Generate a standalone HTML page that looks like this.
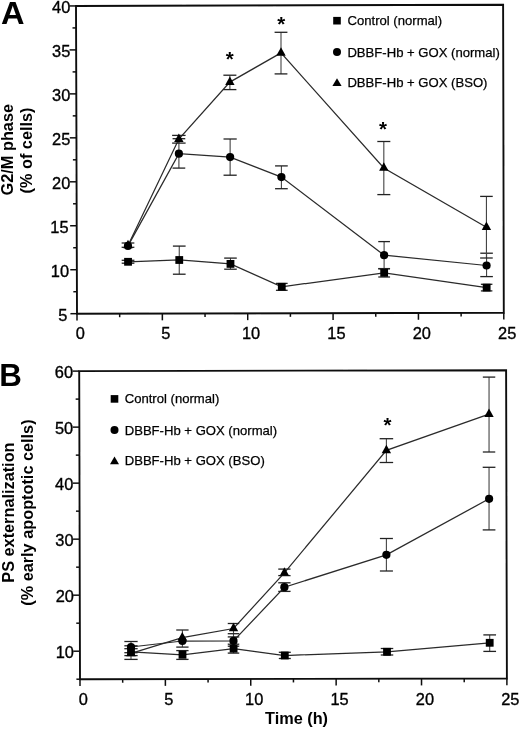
<!DOCTYPE html>
<html><head><meta charset="utf-8"><title>Figure</title>
<style>
html,body{margin:0;padding:0;background:#fff;}
body{width:520px;height:729px;overflow:hidden;}
svg{display:block;will-change:transform;}
text{font-family:"Liberation Sans",sans-serif;fill:#000;}
.tl{font-size:16.4px;stroke:#000;stroke-width:0.35px;}
.lg{font-size:13.1px;stroke:#000;stroke-width:0.25px;}
.at{font-size:16.3px;font-weight:bold;}
.pl{font-size:31px;font-weight:bold;}
.st{font-size:20.5px;font-weight:bold;}
</style></head>
<body>
<svg width="520" height="729" viewBox="0 0 520 729">
<defs><filter id="bl" x="0" y="0" width="100%" height="100%"><feGaussianBlur stdDeviation="0.3"/></filter></defs>
<rect width="520" height="729" fill="#fff"/>
<g filter="url(#bl)">
<path d="M76.00,5.95 L503.10,4.70 L503.80,312.80 L77.00,313.70 Z" stroke="#111" stroke-width="1.9" fill="none" stroke-linejoin="miter"/>
<line x1="70.40" y1="313.70" x2="77.00" y2="313.70" stroke="#111" stroke-width="1.5"/>
<line x1="73.33" y1="291.72" x2="76.93" y2="291.72" stroke="#111" stroke-width="1.5"/>
<line x1="70.26" y1="269.74" x2="76.86" y2="269.74" stroke="#111" stroke-width="1.5"/>
<line x1="73.19" y1="247.75" x2="76.79" y2="247.75" stroke="#111" stroke-width="1.5"/>
<line x1="70.11" y1="225.77" x2="76.71" y2="225.77" stroke="#111" stroke-width="1.5"/>
<line x1="73.04" y1="203.79" x2="76.64" y2="203.79" stroke="#111" stroke-width="1.5"/>
<line x1="69.97" y1="181.81" x2="76.57" y2="181.81" stroke="#111" stroke-width="1.5"/>
<line x1="72.90" y1="159.82" x2="76.50" y2="159.82" stroke="#111" stroke-width="1.5"/>
<line x1="69.83" y1="137.84" x2="76.43" y2="137.84" stroke="#111" stroke-width="1.5"/>
<line x1="72.76" y1="115.86" x2="76.36" y2="115.86" stroke="#111" stroke-width="1.5"/>
<line x1="69.69" y1="93.88" x2="76.29" y2="93.88" stroke="#111" stroke-width="1.5"/>
<line x1="72.61" y1="71.90" x2="76.21" y2="71.90" stroke="#111" stroke-width="1.5"/>
<line x1="69.54" y1="49.91" x2="76.14" y2="49.91" stroke="#111" stroke-width="1.5"/>
<line x1="72.47" y1="27.93" x2="76.07" y2="27.93" stroke="#111" stroke-width="1.5"/>
<line x1="69.40" y1="5.95" x2="76.00" y2="5.95" stroke="#111" stroke-width="1.5"/>
<line x1="77.00" y1="313.70" x2="77.00" y2="320.50" stroke="#111" stroke-width="1.5"/>
<line x1="119.68" y1="313.61" x2="119.68" y2="317.21" stroke="#111" stroke-width="1.5"/>
<line x1="162.36" y1="313.52" x2="162.36" y2="320.32" stroke="#111" stroke-width="1.5"/>
<line x1="205.04" y1="313.43" x2="205.04" y2="317.03" stroke="#111" stroke-width="1.5"/>
<line x1="247.72" y1="313.34" x2="247.72" y2="320.14" stroke="#111" stroke-width="1.5"/>
<line x1="290.40" y1="313.25" x2="290.40" y2="316.85" stroke="#111" stroke-width="1.5"/>
<line x1="333.08" y1="313.16" x2="333.08" y2="319.96" stroke="#111" stroke-width="1.5"/>
<line x1="375.76" y1="313.07" x2="375.76" y2="316.67" stroke="#111" stroke-width="1.5"/>
<line x1="418.44" y1="312.98" x2="418.44" y2="319.78" stroke="#111" stroke-width="1.5"/>
<line x1="461.12" y1="312.89" x2="461.12" y2="316.49" stroke="#111" stroke-width="1.5"/>
<line x1="503.80" y1="312.80" x2="503.80" y2="319.60" stroke="#111" stroke-width="1.5"/>
<text x="67.3" y="321.0" class="tl" text-anchor="end">5</text>
<text x="69.05" y="277.04" class="tl" text-anchor="end">10</text>
<text x="68.6" y="233.07" class="tl" text-anchor="end">15</text>
<text x="70.3" y="189.11" class="tl" text-anchor="end">20</text>
<text x="70.3" y="145.14" class="tl" text-anchor="end">25</text>
<text x="70.3" y="101.18" class="tl" text-anchor="end">30</text>
<text x="70.3" y="57.21" class="tl" text-anchor="end">35</text>
<text x="70.3" y="13.25" class="tl" text-anchor="end">40</text>
<text x="80.4" y="338.6" class="tl" text-anchor="middle">0</text>
<text x="165.76" y="338.6" class="tl" text-anchor="middle">5</text>
<text x="251.12" y="338.6" class="tl" text-anchor="middle">10</text>
<text x="336.48" y="338.6" class="tl" text-anchor="middle">15</text>
<text x="421.84" y="338.6" class="tl" text-anchor="middle">20</text>
<text x="507.2" y="338.6" class="tl" text-anchor="middle">25</text>
<polyline points="128.04,261.80 179.25,260.00 230.48,263.90 281.78,286.80 384.16,272.80 486.64,287.60" stroke="#2a2a2a" stroke-width="1.25" fill="none"/>
<polyline points="127.99,245.90 178.90,153.70 230.13,157.10 281.41,177.10 384.10,255.20 486.57,265.50" stroke="#2a2a2a" stroke-width="1.25" fill="none"/>
<polyline points="127.99,245.40 178.86,139.10 229.88,82.10 281.00,52.90 383.82,168.00 486.44,227.20" stroke="#2a2a2a" stroke-width="1.25" fill="none"/>
<line x1="128.04" y1="260.30" x2="128.04" y2="263.20" stroke="#444" stroke-width="1.1"/>
<line x1="121.69" y1="260.30" x2="134.39" y2="260.30" stroke="#222" stroke-width="1.3"/>
<line x1="121.69" y1="263.20" x2="134.39" y2="263.20" stroke="#222" stroke-width="1.3"/>
<line x1="179.26" y1="246.10" x2="179.26" y2="274.20" stroke="#444" stroke-width="1.1"/>
<line x1="172.91" y1="246.10" x2="185.61" y2="246.10" stroke="#222" stroke-width="1.3"/>
<line x1="172.91" y1="274.20" x2="185.61" y2="274.20" stroke="#222" stroke-width="1.3"/>
<line x1="230.48" y1="258.10" x2="230.48" y2="269.20" stroke="#444" stroke-width="1.1"/>
<line x1="224.18" y1="258.10" x2="236.78" y2="258.10" stroke="#222" stroke-width="1.3"/>
<line x1="224.18" y1="269.20" x2="236.78" y2="269.20" stroke="#222" stroke-width="1.3"/>
<line x1="281.78" y1="283.40" x2="281.78" y2="290.30" stroke="#444" stroke-width="1.1"/>
<line x1="275.93" y1="283.40" x2="287.63" y2="283.40" stroke="#222" stroke-width="1.3"/>
<line x1="275.93" y1="290.30" x2="287.63" y2="290.30" stroke="#222" stroke-width="1.3"/>
<line x1="384.16" y1="268.60" x2="384.16" y2="277.00" stroke="#444" stroke-width="1.1"/>
<line x1="378.26" y1="268.60" x2="390.06" y2="268.60" stroke="#222" stroke-width="1.3"/>
<line x1="378.26" y1="277.00" x2="390.06" y2="277.00" stroke="#222" stroke-width="1.3"/>
<line x1="486.64" y1="284.30" x2="486.64" y2="290.90" stroke="#444" stroke-width="1.1"/>
<line x1="480.89" y1="284.30" x2="492.39" y2="284.30" stroke="#222" stroke-width="1.3"/>
<line x1="480.89" y1="290.90" x2="492.39" y2="290.90" stroke="#222" stroke-width="1.3"/>
<line x1="127.99" y1="243.00" x2="127.99" y2="247.30" stroke="#444" stroke-width="1.1"/>
<line x1="121.64" y1="243.00" x2="134.34" y2="243.00" stroke="#222" stroke-width="1.3"/>
<line x1="121.64" y1="247.30" x2="134.34" y2="247.30" stroke="#222" stroke-width="1.3"/>
<line x1="178.90" y1="138.70" x2="178.90" y2="168.10" stroke="#444" stroke-width="1.1"/>
<line x1="172.55" y1="138.70" x2="185.25" y2="138.70" stroke="#222" stroke-width="1.3"/>
<line x1="172.55" y1="168.10" x2="185.25" y2="168.10" stroke="#222" stroke-width="1.3"/>
<line x1="230.13" y1="139.00" x2="230.13" y2="175.20" stroke="#444" stroke-width="1.1"/>
<line x1="223.53" y1="139.00" x2="236.73" y2="139.00" stroke="#222" stroke-width="1.3"/>
<line x1="223.53" y1="175.20" x2="236.73" y2="175.20" stroke="#222" stroke-width="1.3"/>
<line x1="281.41" y1="165.90" x2="281.41" y2="188.70" stroke="#444" stroke-width="1.1"/>
<line x1="275.06" y1="165.90" x2="287.76" y2="165.90" stroke="#222" stroke-width="1.3"/>
<line x1="275.06" y1="188.70" x2="287.76" y2="188.70" stroke="#222" stroke-width="1.3"/>
<line x1="384.10" y1="241.60" x2="384.10" y2="268.80" stroke="#444" stroke-width="1.1"/>
<line x1="378.25" y1="241.60" x2="389.95" y2="241.60" stroke="#222" stroke-width="1.3"/>
<line x1="378.25" y1="268.80" x2="389.95" y2="268.80" stroke="#222" stroke-width="1.3"/>
<line x1="486.57" y1="253.20" x2="486.57" y2="276.60" stroke="#444" stroke-width="1.1"/>
<line x1="480.27" y1="253.20" x2="492.87" y2="253.20" stroke="#222" stroke-width="1.3"/>
<line x1="480.27" y1="276.60" x2="492.87" y2="276.60" stroke="#222" stroke-width="1.3"/>
<line x1="178.86" y1="135.40" x2="178.86" y2="143.10" stroke="#444" stroke-width="1.1"/>
<line x1="172.11" y1="135.40" x2="185.61" y2="135.40" stroke="#222" stroke-width="1.3"/>
<line x1="172.11" y1="143.10" x2="185.61" y2="143.10" stroke="#222" stroke-width="1.3"/>
<line x1="229.88" y1="75.20" x2="229.88" y2="89.60" stroke="#444" stroke-width="1.1"/>
<line x1="223.38" y1="75.20" x2="236.38" y2="75.20" stroke="#222" stroke-width="1.3"/>
<line x1="223.38" y1="89.60" x2="236.38" y2="89.60" stroke="#222" stroke-width="1.3"/>
<line x1="281.00" y1="32.30" x2="281.00" y2="73.90" stroke="#444" stroke-width="1.1"/>
<line x1="274.60" y1="32.30" x2="287.40" y2="32.30" stroke="#222" stroke-width="1.3"/>
<line x1="274.60" y1="73.90" x2="287.40" y2="73.90" stroke="#222" stroke-width="1.3"/>
<line x1="383.82" y1="141.50" x2="383.82" y2="194.60" stroke="#444" stroke-width="1.1"/>
<line x1="377.32" y1="141.50" x2="390.32" y2="141.50" stroke="#222" stroke-width="1.3"/>
<line x1="377.32" y1="194.60" x2="390.32" y2="194.60" stroke="#222" stroke-width="1.3"/>
<line x1="486.44" y1="196.40" x2="486.44" y2="258.00" stroke="#444" stroke-width="1.1"/>
<line x1="480.14" y1="196.40" x2="492.74" y2="196.40" stroke="#222" stroke-width="1.3"/>
<line x1="480.14" y1="258.00" x2="492.74" y2="258.00" stroke="#222" stroke-width="1.3"/>
<rect x="124.14" y="257.90" width="7.8" height="7.8" fill="#000"/>
<rect x="175.35" y="256.10" width="7.8" height="7.8" fill="#000"/>
<rect x="226.58" y="260.00" width="7.8" height="7.8" fill="#000"/>
<rect x="277.88" y="282.90" width="7.8" height="7.8" fill="#000"/>
<rect x="380.26" y="268.90" width="7.8" height="7.8" fill="#000"/>
<rect x="482.74" y="283.70" width="7.8" height="7.8" fill="#000"/>
<circle cx="127.99" cy="245.90" r="4.1" fill="#000"/>
<circle cx="178.90" cy="153.70" r="4.1" fill="#000"/>
<circle cx="230.13" cy="157.10" r="4.1" fill="#000"/>
<circle cx="281.41" cy="177.10" r="4.1" fill="#000"/>
<circle cx="384.10" cy="255.20" r="4.1" fill="#000"/>
<circle cx="486.57" cy="265.50" r="4.1" fill="#000"/>
<path d="M127.99,239.73 L132.69,248.23 L123.29,248.23 Z" fill="#000"/>
<path d="M178.86,133.43 L183.56,141.93 L174.16,141.93 Z" fill="#000"/>
<path d="M229.88,76.43 L234.58,84.93 L225.18,84.93 Z" fill="#000"/>
<path d="M281.00,47.23 L285.70,55.73 L276.30,55.73 Z" fill="#000"/>
<path d="M383.82,162.33 L388.52,170.83 L379.12,170.83 Z" fill="#000"/>
<path d="M486.44,221.53 L491.14,230.03 L481.74,230.03 Z" fill="#000"/>
<text x="229.70" y="66.20" class="st" text-anchor="middle">*</text>
<text x="281.20" y="30.80" class="st" text-anchor="middle">*</text>
<text x="382.90" y="136.00" class="st" text-anchor="middle">*</text>
<rect x="333.20" y="16.90" width="7.6" height="7.6" fill="#000"/>
<circle cx="337.00" cy="51.90" r="4.0" fill="#000"/>
<path d="M337.00,78.33 L341.60,85.93 L332.40,85.93 Z" fill="#000"/>
<text x="347.5" y="24.7" class="lg">Control (normal)</text>
<text x="347.4" y="56.5" class="lg">DBBF-Hb + GOX (normal)</text>
<text x="347.4" y="87.0" class="lg">DBBF-Hb + GOX (BSO)</text>
<path d="M79.20,371.10 L506.10,370.20 L506.90,678.50 L80.00,679.20 Z" stroke="#111" stroke-width="1.9" fill="none" stroke-linejoin="miter"/>
<line x1="76.40" y1="679.20" x2="80.00" y2="679.20" stroke="#111" stroke-width="1.5"/>
<line x1="73.33" y1="651.19" x2="79.93" y2="651.19" stroke="#111" stroke-width="1.5"/>
<line x1="76.25" y1="623.18" x2="79.85" y2="623.18" stroke="#111" stroke-width="1.5"/>
<line x1="73.18" y1="595.17" x2="79.78" y2="595.17" stroke="#111" stroke-width="1.5"/>
<line x1="76.11" y1="567.16" x2="79.71" y2="567.16" stroke="#111" stroke-width="1.5"/>
<line x1="73.04" y1="539.15" x2="79.64" y2="539.15" stroke="#111" stroke-width="1.5"/>
<line x1="75.96" y1="511.15" x2="79.56" y2="511.15" stroke="#111" stroke-width="1.5"/>
<line x1="72.89" y1="483.14" x2="79.49" y2="483.14" stroke="#111" stroke-width="1.5"/>
<line x1="75.82" y1="455.13" x2="79.42" y2="455.13" stroke="#111" stroke-width="1.5"/>
<line x1="72.75" y1="427.12" x2="79.35" y2="427.12" stroke="#111" stroke-width="1.5"/>
<line x1="75.67" y1="399.11" x2="79.27" y2="399.11" stroke="#111" stroke-width="1.5"/>
<line x1="72.60" y1="371.10" x2="79.20" y2="371.10" stroke="#111" stroke-width="1.5"/>
<line x1="80.00" y1="679.20" x2="80.00" y2="686.00" stroke="#111" stroke-width="1.5"/>
<line x1="122.69" y1="679.13" x2="122.69" y2="682.73" stroke="#111" stroke-width="1.5"/>
<line x1="165.38" y1="679.06" x2="165.38" y2="685.86" stroke="#111" stroke-width="1.5"/>
<line x1="208.07" y1="678.99" x2="208.07" y2="682.59" stroke="#111" stroke-width="1.5"/>
<line x1="250.76" y1="678.92" x2="250.76" y2="685.72" stroke="#111" stroke-width="1.5"/>
<line x1="293.45" y1="678.85" x2="293.45" y2="682.45" stroke="#111" stroke-width="1.5"/>
<line x1="336.14" y1="678.78" x2="336.14" y2="685.58" stroke="#111" stroke-width="1.5"/>
<line x1="378.83" y1="678.71" x2="378.83" y2="682.31" stroke="#111" stroke-width="1.5"/>
<line x1="421.52" y1="678.64" x2="421.52" y2="685.44" stroke="#111" stroke-width="1.5"/>
<line x1="464.21" y1="678.57" x2="464.21" y2="682.17" stroke="#111" stroke-width="1.5"/>
<line x1="506.90" y1="678.50" x2="506.90" y2="685.30" stroke="#111" stroke-width="1.5"/>
<text x="73.95" y="657.79" class="tl" text-anchor="end">10</text>
<text x="73.9" y="601.77" class="tl" text-anchor="end">20</text>
<text x="73.6" y="545.75" class="tl" text-anchor="end">30</text>
<text x="73.25" y="489.74" class="tl" text-anchor="end">40</text>
<text x="73.15" y="433.72" class="tl" text-anchor="end">50</text>
<text x="73.0" y="377.7" class="tl" text-anchor="end">60</text>
<text x="83.4" y="705.0" class="tl" text-anchor="middle">0</text>
<text x="168.78" y="705.0" class="tl" text-anchor="middle">5</text>
<text x="254.16" y="705.0" class="tl" text-anchor="middle">10</text>
<text x="339.54" y="705.0" class="tl" text-anchor="middle">15</text>
<text x="424.92" y="705.0" class="tl" text-anchor="middle">20</text>
<text x="510.3" y="705.0" class="tl" text-anchor="middle">25</text>
<polyline points="131.00,651.80 182.50,654.80 233.60,648.70 284.80,655.50 387.00,651.80 489.70,642.80" stroke="#2a2a2a" stroke-width="1.25" fill="none"/>
<polyline points="131.00,647.00 182.40,641.00 233.50,640.90 284.40,587.20 386.40,554.80 489.10,498.80" stroke="#2a2a2a" stroke-width="1.25" fill="none"/>
<polyline points="131.00,653.30 182.30,637.60 233.50,628.50 284.40,572.80 386.40,450.40 489.00,414.10" stroke="#2a2a2a" stroke-width="1.25" fill="none"/>
<line x1="131.00" y1="641.50" x2="131.00" y2="659.40" stroke="#444" stroke-width="1.1"/>
<line x1="124.35" y1="641.50" x2="137.65" y2="641.50" stroke="#222" stroke-width="1.3"/>
<line x1="124.35" y1="659.40" x2="137.65" y2="659.40" stroke="#222" stroke-width="1.3"/>
<line x1="124.35" y1="645.80" x2="137.65" y2="645.80" stroke="#222" stroke-width="1.3"/>
<line x1="124.35" y1="648.70" x2="137.65" y2="648.70" stroke="#222" stroke-width="1.3"/>
<line x1="124.35" y1="652.70" x2="137.65" y2="652.70" stroke="#222" stroke-width="1.3"/>
<line x1="124.35" y1="655.60" x2="137.65" y2="655.60" stroke="#222" stroke-width="1.3"/>
<line x1="182.40" y1="630.00" x2="182.40" y2="647.10" stroke="#444" stroke-width="1.1"/>
<line x1="176.25" y1="630.00" x2="188.55" y2="630.00" stroke="#222" stroke-width="1.3"/>
<line x1="176.25" y1="647.10" x2="188.55" y2="647.10" stroke="#222" stroke-width="1.3"/>
<line x1="176.25" y1="650.60" x2="188.55" y2="650.60" stroke="#222" stroke-width="1.3"/>
<line x1="176.25" y1="659.40" x2="188.55" y2="659.40" stroke="#222" stroke-width="1.3"/>
<line x1="233.50" y1="623.50" x2="233.50" y2="653.10" stroke="#444" stroke-width="1.1"/>
<line x1="227.75" y1="623.50" x2="239.25" y2="623.50" stroke="#222" stroke-width="1.3"/>
<line x1="227.75" y1="653.10" x2="239.25" y2="653.10" stroke="#222" stroke-width="1.3"/>
<line x1="227.75" y1="633.70" x2="239.25" y2="633.70" stroke="#222" stroke-width="1.3"/>
<line x1="227.75" y1="636.90" x2="239.25" y2="636.90" stroke="#222" stroke-width="1.3"/>
<line x1="227.75" y1="644.20" x2="239.25" y2="644.20" stroke="#222" stroke-width="1.3"/>
<line x1="227.75" y1="646.20" x2="239.25" y2="646.20" stroke="#222" stroke-width="1.3"/>
<line x1="284.40" y1="569.10" x2="284.40" y2="575.60" stroke="#444" stroke-width="1.1"/>
<line x1="278.25" y1="569.10" x2="290.55" y2="569.10" stroke="#222" stroke-width="1.3"/>
<line x1="278.25" y1="575.60" x2="290.55" y2="575.60" stroke="#222" stroke-width="1.3"/>
<line x1="284.40" y1="582.80" x2="284.40" y2="591.40" stroke="#444" stroke-width="1.1"/>
<line x1="278.25" y1="582.80" x2="290.55" y2="582.80" stroke="#222" stroke-width="1.3"/>
<line x1="278.25" y1="591.40" x2="290.55" y2="591.40" stroke="#222" stroke-width="1.3"/>
<line x1="284.80" y1="652.30" x2="284.80" y2="658.50" stroke="#444" stroke-width="1.1"/>
<line x1="278.80" y1="652.30" x2="290.80" y2="652.30" stroke="#222" stroke-width="1.3"/>
<line x1="278.80" y1="658.50" x2="290.80" y2="658.50" stroke="#222" stroke-width="1.3"/>
<line x1="386.40" y1="438.70" x2="386.40" y2="462.50" stroke="#444" stroke-width="1.1"/>
<line x1="379.65" y1="438.70" x2="393.15" y2="438.70" stroke="#222" stroke-width="1.3"/>
<line x1="379.65" y1="462.50" x2="393.15" y2="462.50" stroke="#222" stroke-width="1.3"/>
<line x1="386.40" y1="538.50" x2="386.40" y2="571.00" stroke="#444" stroke-width="1.1"/>
<line x1="379.90" y1="538.50" x2="392.90" y2="538.50" stroke="#222" stroke-width="1.3"/>
<line x1="379.90" y1="571.00" x2="392.90" y2="571.00" stroke="#222" stroke-width="1.3"/>
<line x1="387.00" y1="648.50" x2="387.00" y2="655.00" stroke="#444" stroke-width="1.1"/>
<line x1="380.75" y1="648.50" x2="393.25" y2="648.50" stroke="#222" stroke-width="1.3"/>
<line x1="380.75" y1="655.00" x2="393.25" y2="655.00" stroke="#222" stroke-width="1.3"/>
<line x1="489.05" y1="377.10" x2="489.05" y2="452.00" stroke="#444" stroke-width="1.1"/>
<line x1="482.85" y1="377.10" x2="495.25" y2="377.10" stroke="#222" stroke-width="1.3"/>
<line x1="482.85" y1="452.00" x2="495.25" y2="452.00" stroke="#222" stroke-width="1.3"/>
<line x1="489.05" y1="467.30" x2="489.05" y2="529.90" stroke="#444" stroke-width="1.1"/>
<line x1="482.70" y1="467.30" x2="495.40" y2="467.30" stroke="#222" stroke-width="1.3"/>
<line x1="482.70" y1="529.90" x2="495.40" y2="529.90" stroke="#222" stroke-width="1.3"/>
<line x1="489.70" y1="634.90" x2="489.70" y2="651.40" stroke="#444" stroke-width="1.1"/>
<line x1="483.35" y1="634.90" x2="496.05" y2="634.90" stroke="#222" stroke-width="1.3"/>
<line x1="483.35" y1="651.40" x2="496.05" y2="651.40" stroke="#222" stroke-width="1.3"/>
<rect x="127.10" y="647.90" width="7.8" height="7.8" fill="#000"/>
<rect x="178.60" y="650.90" width="7.8" height="7.8" fill="#000"/>
<rect x="229.70" y="644.80" width="7.8" height="7.8" fill="#000"/>
<rect x="280.90" y="651.60" width="7.8" height="7.8" fill="#000"/>
<rect x="383.10" y="647.90" width="7.8" height="7.8" fill="#000"/>
<rect x="485.80" y="638.90" width="7.8" height="7.8" fill="#000"/>
<circle cx="131.00" cy="647.00" r="4.1" fill="#000"/>
<circle cx="182.40" cy="641.00" r="4.1" fill="#000"/>
<circle cx="233.50" cy="640.90" r="4.1" fill="#000"/>
<circle cx="284.40" cy="587.20" r="4.1" fill="#000"/>
<circle cx="386.40" cy="554.80" r="4.1" fill="#000"/>
<circle cx="489.10" cy="498.80" r="4.1" fill="#000"/>
<path d="M131.00,647.63 L135.70,656.13 L126.30,656.13 Z" fill="#000"/>
<path d="M182.30,631.93 L187.00,640.43 L177.60,640.43 Z" fill="#000"/>
<path d="M233.50,622.83 L238.20,631.33 L228.80,631.33 Z" fill="#000"/>
<path d="M284.40,567.13 L289.10,575.63 L279.70,575.63 Z" fill="#000"/>
<path d="M386.40,444.73 L391.10,453.23 L381.70,453.23 Z" fill="#000"/>
<path d="M489.00,408.43 L493.70,416.93 L484.30,416.93 Z" fill="#000"/>
<text x="387.40" y="431.60" class="st" text-anchor="middle">*</text>
<rect x="110.70" y="395.10" width="7.6" height="7.6" fill="#000"/>
<circle cx="114.50" cy="430.10" r="4.0" fill="#000"/>
<path d="M114.50,456.57 L119.00,464.27 L110.00,464.27 Z" fill="#000"/>
<text x="124.7" y="403.1" class="lg">Control (normal)</text>
<text x="124.7" y="434.8" class="lg">DBBF-Hb + GOX (normal)</text>
<text x="124.7" y="465.3" class="lg">DBBF-Hb + GOX (BSO)</text>
<text transform="translate(1.0,23.8) scale(1.05,1.03)" class="pl">A</text>
<text transform="translate(-0.8,385.7) scale(1.01,1.0)" class="pl">B</text>
<text transform="translate(13.0,149.7) rotate(-90)" class="at" text-anchor="middle">G2/M phase</text>
<text transform="translate(31.7,150.5) rotate(-90)" class="at" text-anchor="middle">(% of cells)</text>
<text transform="translate(14.2,512.6) rotate(-90)" class="at" text-anchor="middle">PS externalization</text>
<text transform="translate(32.5,512.6) rotate(-90)" class="at" text-anchor="middle">(% early apoptotic cells)</text>
<text x="296.5" y="724.2" class="at" text-anchor="middle">Time (h)</text>
</g>
</svg>
</body></html>
